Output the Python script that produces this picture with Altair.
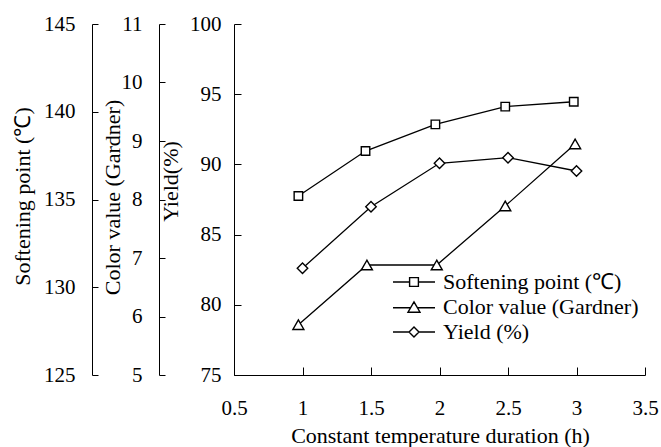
import altair as alt
import pandas as pd

# ---------------- data ----------------
series_names = ["Softening point (℃)", "Color value (Gardner)", "Yield (%)"]

sp_x = [0.97, 1.46, 1.97, 2.48, 2.98]
sp_y = [135.2, 137.76, 139.28, 140.29, 140.57]

col_x = [0.97, 1.47, 1.98, 2.48, 2.99]
col_y = [5.86, 6.88, 6.88, 7.89, 8.95]

yld_x = [1.0, 1.5, 2.0, 2.5, 3.0]
yld_y = [82.6, 86.99, 90.08, 90.48, 89.53]

x_ticks = [0.5, 1, 1.5, 2, 2.5, 3, 3.5]
sp_ticks = [125, 130, 135, 140, 145]
col_ticks = [5, 6, 7, 8, 9, 10, 11]
yld_ticks = [75, 80, 85, 90, 95, 100]

x_title = "Constant temperature duration  (h)"
sp_title = "Softening point (℃)"
col_title = "Color value (Gardner)"
yld_title = "Yield(%)"

# ---------------- layout / style ----------------
W, H = 411, 351
FONT = "Liberation Serif"
FS = 21
TFS = 22

x_axis = alt.Axis(
    orient="top", offset=-H, values=x_ticks, format="~g",
    tickSize=8, labelPadding=-41, labelBaseline="middle", labelAlign="center",
    labelFlush=False, title=x_title, titleX=206, titleY=60,
    titleAlign="center", titleBaseline="middle", grid=False,
)
x_enc = alt.X("x:Q", scale=alt.Scale(domain=[0.5, 3.5], nice=False, zero=False), axis=x_axis)


def side_axis(pos_x, ticks, tick_size, label_gap, title, tx, ty):
    return alt.Axis(
        orient="right", offset=pos_x - W, values=ticks, tickSize=tick_size,
        labelPadding=-(tick_size + label_gap), labelAlign="right", labelBaseline="middle",
        title=title, titleAngle=270, titleX=tx, titleY=ty,
        titleAlign="center", titleBaseline="middle", grid=False,
    )


def series_layer(xs, ys, shape, size, domain, axis):
    df = pd.DataFrame({"x": xs, "y": ys})
    return alt.Chart(df).mark_line(
        color="black", strokeWidth=1.3,
        point=alt.OverlayMarkDef(shape=shape, size=size, filled=True, fill="white",
                                 stroke="black", strokeWidth=1.4, opacity=1),
    ).encode(
        x=x_enc,
        y=alt.Y("y:Q", scale=alt.Scale(domain=domain, nice=False, zero=False), axis=axis),
    )


sp_layer = series_layer(sp_x, sp_y, "square", 72, [125, 145],
                        side_axis(-142, sp_ticks, 6, 17, sp_title, -70, 172))
col_layer = series_layer(col_x, col_y, "triangle-up", 121, [5, 11],
                         side_axis(-75, col_ticks, 6, 17, col_title, -47, 173))
yld_layer = series_layer(yld_x, yld_y, "diamond", 110, [75, 100],
                         side_axis(0, yld_ticks, 7, 13, yld_title, -64, 157))

# legend glyphs: a line with the marker in the middle, drawn as one continuous stroke
legend_paths = [
    "M-5.25,0L-1.1,0L-1.1,-1.1L1.1,-1.1L1.1,0L5.25,0L1.1,0L1.1,1.1L-1.1,1.1L-1.1,0",
    "M-5.25,0.2L-0.865,0.2L0,-1.3L0.865,0.2L5.25,0.2L0.865,0.2L1.5,1.3L-1.5,1.3L-0.865,0.2",
    "M-5.25,0L-1.25,0L0,-1.25L1.25,0L5.25,0L1.25,0L0,1.25L-1.25,0",
]

legend_df = pd.DataFrame({"series": series_names})
legend_layer = alt.Chart(legend_df).transform_filter("false").mark_point(
    filled=False, color="black", strokeWidth=1.4, opacity=1
).encode(
    shape=alt.Shape(
        "series:N",
        scale=alt.Scale(domain=series_names, range=legend_paths),
        legend=alt.Legend(
            orient="none", legendX=169, legendY=247, title=None,
            symbolSize=64, symbolStrokeColor="black",
            symbolStrokeWidth=1.4, symbolOpacity=1,
            labelFont=FONT, labelFontSize=TFS, labelColor="black",
            labelOffset=18, rowPadding=3, padding=0, labelLimit=400,
        ),
    )
)

chart = alt.layer(sp_layer, col_layer, yld_layer, legend_layer).resolve_scale(
    y="independent"
).properties(
    width=W, height=H,
    autosize=alt.AutoSizeParams(type="none"),
    padding={"left": 234, "top": 24, "right": 16, "bottom": 72},
    background="white",
).configure_axis(
    labelFont=FONT, labelFontSize=FS, labelColor="black",
    titleFont=FONT, titleFontSize=TFS, titleColor="black", titleFontWeight="normal",
    domainColor="black", domainWidth=1, tickColor="black", tickWidth=1,
).configure_view(strokeWidth=0)

chart.save("out.html", embed_options={"renderer": "svg", "actions": False})
